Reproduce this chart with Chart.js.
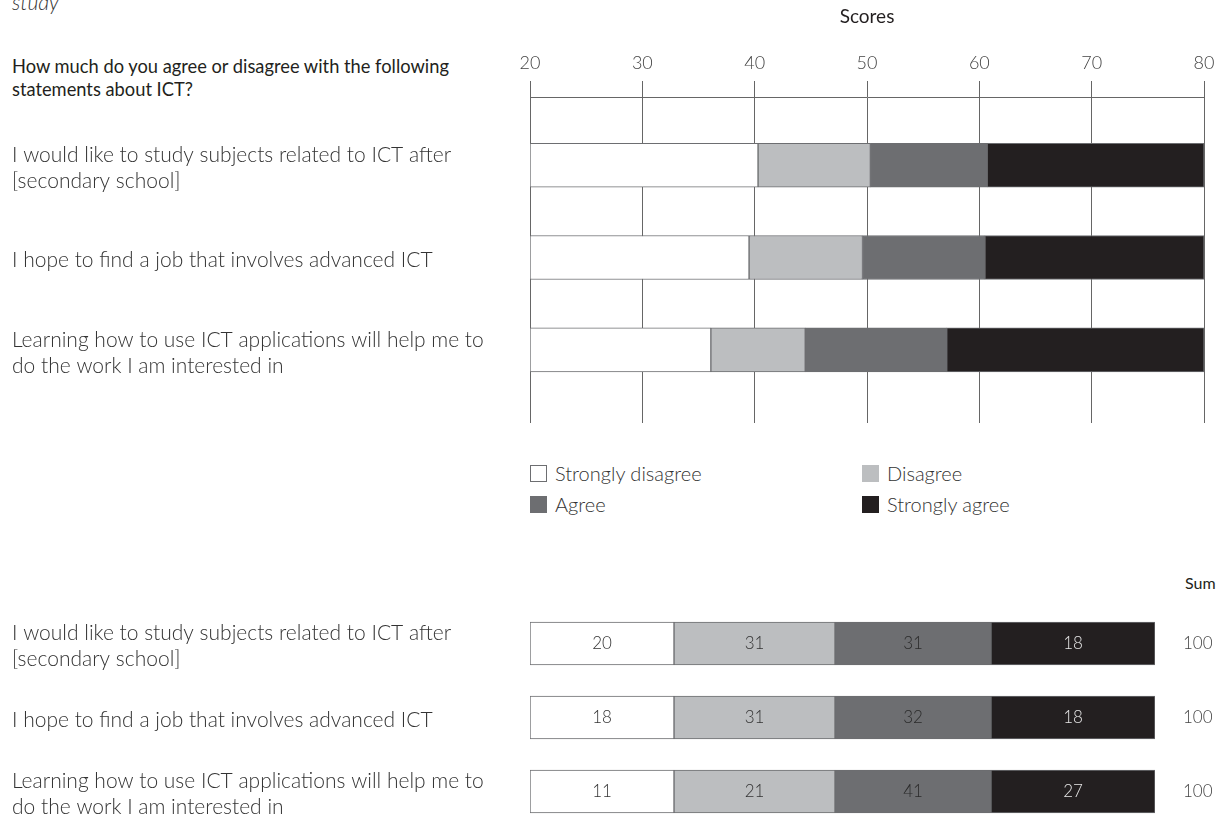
<!DOCTYPE html>
<html>
<head>
<meta charset="utf-8">
<script src="https://cdn.jsdelivr.net/npm/chart.js@4/dist/chart.umd.min.js"></script>
<style>
  body { margin: 0; background: #fff; font-family: Lato, "Open Sans", sans-serif; color: #231f20; }
  #page { position: relative; width: 1226px; height: 817px; overflow: hidden; }
  .txt { position: absolute; white-space: nowrap; }
  #study { left: 12px; top: -11px; font-size: 21px; font-style: italic; font-weight: 300; color: #333; }
  #question { left: 12px; top: 55px; font-size: 18.3px; line-height: 23px; font-weight: 400; color: #231f20; }
  #sum { left: 1185px; top: 573px; font-size: 16px; color: #231f20; }
  #topBox { position: absolute; left: 0; top: 0; width: 1226px; height: 440px; }
  #bottomBox { position: absolute; left: 0; top: 560px; width: 1226px; height: 257px; }
  #legend { position: absolute; left: 530px; top: 464px; width: 680px; display: grid; grid-template-columns: 332px 332px; row-gap: 13px; }
  .item { display: flex; align-items: center; font-size: 20px; font-weight: 300; color: #333; height: 18px; }
  .box { width: 17px; height: 17px; border: 1px solid #6d6e71; margin-right: 8px; box-sizing: border-box; }
</style>
</head>
<body>
<div id="page">
  <div class="txt" id="study">study</div>
  <div class="txt" id="question">How much do you agree or disagree with the following<br>statements about ICT?</div>
  <div id="topBox"><canvas id="topChart"></canvas></div>
  <div id="legend"></div>
  <div class="txt" id="sum">Sum</div>
  <div id="bottomBox"><canvas id="bottomChart"></canvas></div>
</div>
<script>
// statements (rows)
const statements = [
  ['I would like to study subjects related to ICT after', '[secondary school]'],
  ['I hope to find a job that involves advanced ICT'],
  ['Learning how to use ICT applications will help me to', 'do the work I am interested in']
];
const responses = ['Strongly disagree', 'Disagree', 'Agree', 'Strongly agree'];

// score thresholds (start of each band), scale ends at 80
const scoreMin = 20;
const scoreMax = 80;
const disagreeFrom = [40.3, 39.5, 36.1];
const agreeFrom = [50.3, 49.6, 44.5];
const stronglyAgreeFrom = [60.7, 60.5, 57.1];

// percentage of students per category (bottom panel)
const stronglyDisagreePct = [20, 18, 11];
const disagreePct = [31, 31, 21];
const agreePct = [31, 32, 41];
const stronglyAgreePct = [18, 18, 27];
const sums = [100, 100, 100];

const colors = ['#ffffff', '#bcbec0', '#6d6e71', '#231f20'];
const textColors = ['#333333', '#333333', '#2a2a2a', '#e6e6e6'];
const lineColor = '#6d6e71';
const FONT = 'Lato';

// table column edges of the bottom panel (layout, px)
const tableCols = [0, 144, 305, 461, 625];

const bandStarts = [statements.map(() => scoreMin), disagreeFrom, agreeFrom, stronglyAgreeFrom];
const bandEnds = [disagreeFrom, agreeFrom, stronglyAgreeFrom, statements.map(() => scoreMax)];

const topDatasets = responses.map((r, j) => ({
  label: r,
  data: statements.map((s, i) => ({ y: i, x: [bandStarts[j][i], bandEnds[j][i]] })),
  backgroundColor: colors[j],
  borderColor: lineColor,
  borderWidth: 1,
  borderSkipped: false,
  barThickness: 44
}));

const rowTicks = scale => { scale.ticks = statements.map((s, i) => ({ value: i })); };
const rowFit = w => s => { s.width = w; s.paddingTop = 0; s.paddingBottom = 0; };
const rowFont = { family: FONT, size: 21, weight: 300, lineHeight: 1.24 };

new Chart(document.getElementById('topChart'), {
  type: 'bar',
  data: { datasets: topDatasets },
  options: {
    indexAxis: 'y',
    grouped: false,
    responsive: true,
    maintainAspectRatio: false,
    animation: false,
    layout: { padding: { left: 12, right: 22, top: 0, bottom: 17 } },
    plugins: { legend: { display: false }, tooltip: { enabled: false } },
    scales: {
      x: {
        type: 'linear', position: 'top', min: scoreMin, max: scoreMax,
        afterFit: s => { s.height = 97; },
        title: { display: true, text: 'Scores', color: '#231f20', font: { family: FONT, size: 19 }, padding: { top: 5, bottom: 0 } },
        ticks: { stepSize: 10, color: '#444', padding: 7, font: { family: FONT, size: 18, weight: 300 } },
        grid: { color: '#666666', lineWidth: 1, tickLength: 16 },
        border: { display: true, color: '#666666', width: 1 }
      },
      y: {
        type: 'linear', reverse: true, offset: false, min: -0.739, max: 2.793,
        afterBuildTicks: rowTicks,
        afterFit: rowFit(518),
        ticks: { crossAlign: 'far', labelOffset: 3, color: '#333', font: rowFont, callback: v => statements[v] },
        grid: { display: false },
        border: { display: false }
      }
    }
  }
});

// legend built from the datasets
const legendEl = document.getElementById('legend');
topDatasets.forEach(d => {
  const item = document.createElement('div');
  item.className = 'item';
  const box = document.createElement('span');
  box.className = 'box';
  box.style.background = d.backgroundColor;
  if (d.backgroundColor !== '#ffffff') box.style.borderColor = d.backgroundColor;
  item.appendChild(box);
  item.appendChild(document.createTextNode(d.label));
  legendEl.appendChild(item);
});

// bottom panel: a table of shares, one cell per response
const shares = [stronglyDisagreePct, disagreePct, agreePct, stronglyAgreePct];
const bottomDatasets = responses.map((r, j) => ({
  label: r,
  data: statements.map((s, i) => ({ y: i, x: [tableCols[j], tableCols[j + 1]] })),
  backgroundColor: colors[j],
  borderColor: lineColor,
  borderWidth: 1,
  borderSkipped: false,
  barThickness: 43
}));

const cellLabels = {
  id: 'cellLabels',
  afterDatasetsDraw(chart) {
    const ctx = chart.ctx;
    ctx.save();
    ctx.font = '300 17px ' + FONT;
    ctx.textAlign = 'center';
    ctx.textBaseline = 'middle';
    chart.data.datasets.forEach((d, j) => {
      chart.getDatasetMeta(j).data.forEach((el, i) => {
        const c = el.getCenterPoint();
        ctx.fillStyle = textColors[j];
        ctx.fillText(String(shares[j][i]), c.x, c.y);
      });
    });
    ctx.restore();
  }
};

new Chart(document.getElementById('bottomChart'), {
  type: 'bar',
  data: { datasets: bottomDatasets },
  plugins: [cellLabels],
  options: {
    indexAxis: 'y',
    grouped: false,
    responsive: true,
    maintainAspectRatio: false,
    animation: false,
    layout: { padding: { left: 12, right: 0, top: 20, bottom: 0 } },
    plugins: { legend: { display: false }, tooltip: { enabled: false } },
    scales: {
      x: { type: 'linear', display: false, min: tableCols[0], max: tableCols[tableCols.length - 1] },
      y: {
        type: 'linear', reverse: true, offset: false, min: -0.858, max: 2.345,
        afterBuildTicks: rowTicks,
        afterFit: rowFit(518),
        ticks: { crossAlign: 'far', labelOffset: 3, color: '#333', font: rowFont, callback: v => statements[v] },
        grid: { display: false },
        border: { display: false }
      },
      sum: {
        type: 'linear', position: 'right', reverse: true, offset: false, min: -0.858, max: 2.345,
        afterBuildTicks: rowTicks,
        afterFit: rowFit(71),
        ticks: { padding: 28, color: '#444', font: { family: FONT, size: 17, weight: 300 }, callback: v => String(sums[v]) },
        grid: { display: false, drawTicks: false },
        border: { display: false }
      }
    }
  }
});
</script>
</body>
</html>
